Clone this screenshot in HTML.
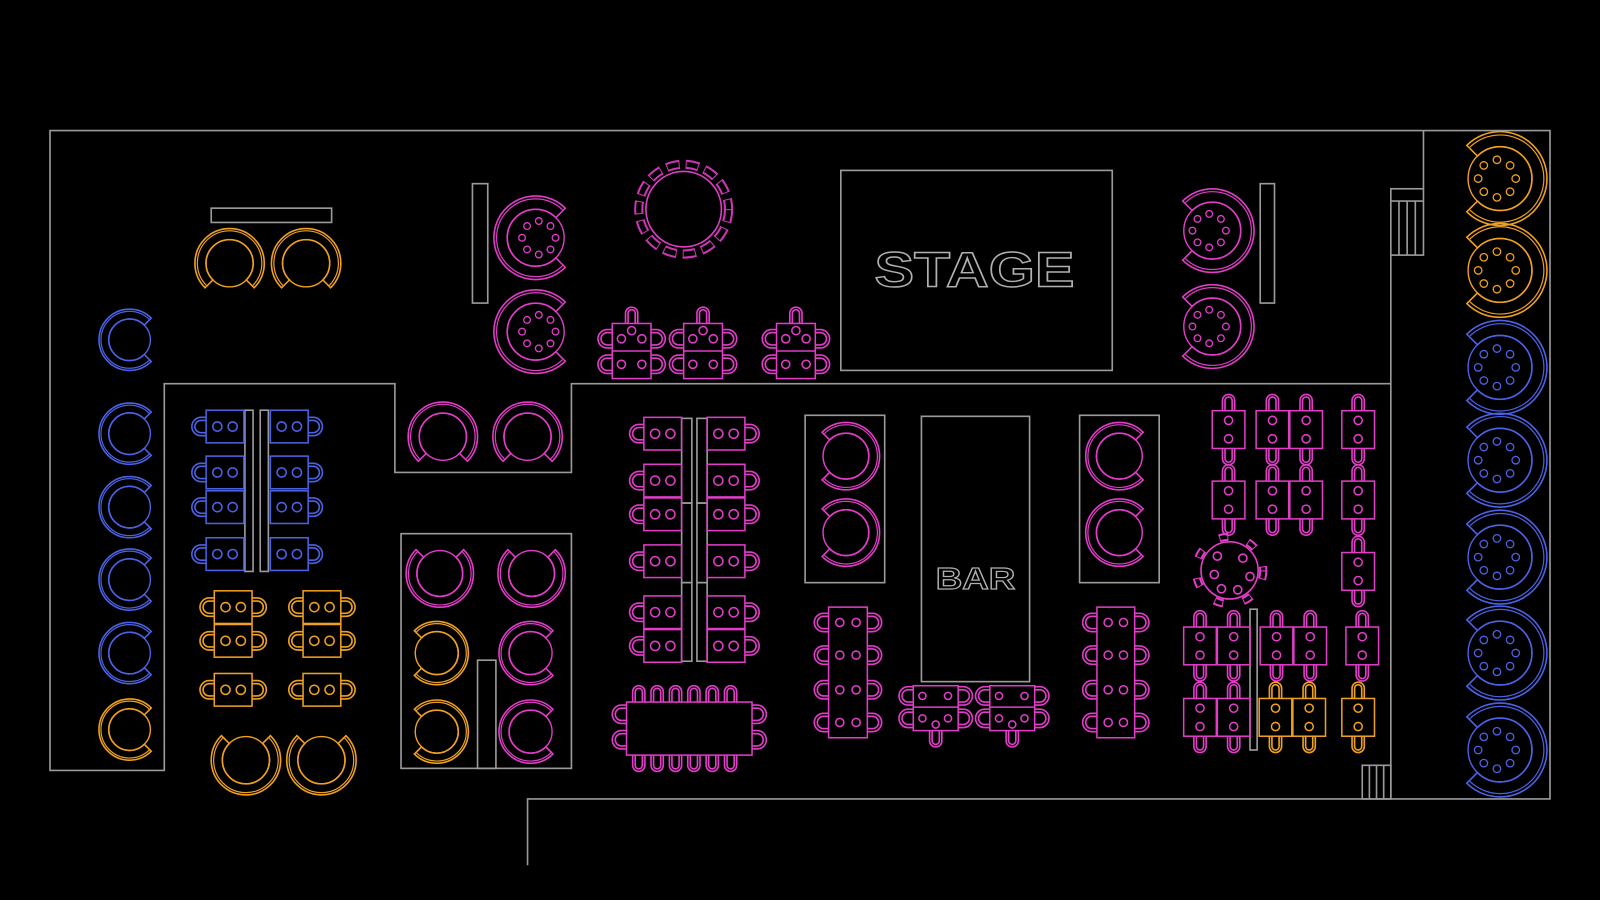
<!DOCTYPE html>
<html><head><meta charset="utf-8"><style>
html,body{margin:0;padding:0;background:#000;}
svg{display:block;}
</style></head><body>
<svg width="1600" height="900" viewBox="0 0 1568 882" preserveAspectRatio="none" xmlns="http://www.w3.org/2000/svg">
<defs>
<g id="bt" fill="none" stroke="currentColor">
<path vector-effect="non-scaling-stroke" stroke-width="1.6" d="M0.707,-0.707 A1,1 0 1 0 0.707,0.707 L0.48,0.48 A0.68,0.68 0 1 1 0.48,-0.48 Z"/>
<path vector-effect="non-scaling-stroke" stroke-width="1.2" d="M0.64,-0.67 A0.93,0.93 0 1 0 0.64,0.67"/>
<circle vector-effect="non-scaling-stroke" stroke-width="1.4" r="0.68"/>
</g>
<g id="dots" fill="none" stroke="currentColor">
<circle vector-effect="non-scaling-stroke" stroke-width="1.3" cx="0" cy="-0.4" r="0.08"/>
<circle vector-effect="non-scaling-stroke" stroke-width="1.3" cx="0.28" cy="-0.28" r="0.08"/>
<circle vector-effect="non-scaling-stroke" stroke-width="1.3" cx="0.4" cy="0" r="0.08"/>
<circle vector-effect="non-scaling-stroke" stroke-width="1.3" cx="0.28" cy="0.28" r="0.08"/>
<circle vector-effect="non-scaling-stroke" stroke-width="1.3" cx="0" cy="0.4" r="0.08"/>
<circle vector-effect="non-scaling-stroke" stroke-width="1.3" cx="-0.28" cy="0.28" r="0.08"/>
<circle vector-effect="non-scaling-stroke" stroke-width="1.3" cx="-0.4" cy="0" r="0.08"/>
<circle vector-effect="non-scaling-stroke" stroke-width="1.3" cx="-0.28" cy="-0.28" r="0.08"/>
</g>
<path id="ch" fill="none" stroke="currentColor" stroke-width="1.6" d="M0,-9 H-5 A9,9 0 0 0 -5,9 H0 M0,-6 H-5 A6,6 0 0 0 -5,6 H0"/>
<path id="chv" fill="none" stroke="currentColor" stroke-width="1.6" d="M-6,0 V-10 A6,6 0 0 1 6,-10 V0 M-3.5,0 V-10 A3.5,3.5 0 0 1 3.5,-10 V0"/>
<g id="hu" fill="none" stroke="currentColor" stroke-width="1.5">
<rect x="0" y="-16" width="37" height="32"/>
<circle cx="11" cy="0" r="4.5"/><circle cx="26" cy="0" r="4.5"/>
<use href="#ch"/>
</g>
<g id="vu" fill="none" stroke="currentColor" stroke-width="1.5">
<rect x="-16" y="-18.5" width="32" height="37"/>
<circle cx="0" cy="-9" r="4"/><circle cx="0" cy="9" r="4"/>
<use href="#chv" transform="translate(0,-18.5)"/>
<use href="#chv" transform="translate(0,18.5) scale(1,-1)"/>
</g>
<g id="tu" fill="none" stroke="currentColor" stroke-width="1.5">
<rect x="-19" y="-27" width="38" height="54"/>
<line x1="-19" y1="0" x2="19" y2="0"/>
<circle cx="-10" cy="-12" r="4"/><circle cx="10" cy="-12" r="4"/><circle cx="0" cy="-20" r="4"/>
<circle cx="-10" cy="13" r="4"/><circle cx="10" cy="13" r="4"/>
<use href="#ch" transform="translate(-19,-12)"/><use href="#ch" transform="translate(-19,13)"/>
<use href="#ch" transform="translate(19,-12) scale(-1,1)"/><use href="#ch" transform="translate(19,13) scale(-1,1)"/>
<use href="#chv" transform="translate(0,-27)"/>
</g>
</defs>

<g fill="none" stroke="#9a9a9a" stroke-width="1.6">
<polyline points="1395,128 49,128 49,755 161,755 161,376 387,376 387,463 560,463 560,376 1363,376"/>
<line x1="1395" y1="128" x2="1395" y2="185"/>
<polyline points="1395,128 1519,128 1519,783 517,783 517,848"/>
<polyline points="1363,250 1363,783"/>
<rect x="1363" y="185" width="32" height="65"/>
<line x1="1363" y1="197" x2="1395" y2="197"/>
<line x1="1371" y1="197" x2="1371" y2="250"/><line x1="1379" y1="197" x2="1379" y2="250"/><line x1="1387" y1="197" x2="1387" y2="250"/>
<rect x="824" y="167" width="266" height="196"/>
<rect x="903" y="408" width="106" height="260"/>
<rect x="463" y="180" width="15" height="117"/>
<rect x="1235" y="180" width="14" height="117"/>
<rect x="207" y="204" width="118" height="14"/>
<rect x="789" y="407" width="78" height="164"/>
<rect x="1058" y="407" width="78" height="164"/>
<rect x="393" y="523" width="167" height="230"/>
<rect x="468" y="647" width="18" height="106"/>
<rect x="240" y="402" width="8" height="158"/><rect x="255" y="402" width="8" height="158"/>
<rect x="668" y="410" width="10" height="83"/><rect x="683" y="410" width="10" height="83"/>
<rect x="668" y="493" width="10" height="78"/><rect x="683" y="493" width="10" height="78"/>
<rect x="668" y="571" width="10" height="77"/><rect x="683" y="571" width="10" height="77"/>
<rect x="1225" y="597" width="7" height="138"/>
<rect x="1335" y="750" width="28" height="33"/>
<line x1="1342" y1="750" x2="1342" y2="783"/><line x1="1349" y1="750" x2="1349" y2="783"/><line x1="1356" y1="750" x2="1356" y2="783"/>
</g>
<text x="857" y="281" textLength="196" lengthAdjust="spacingAndGlyphs" font-family="Liberation Sans, sans-serif" font-weight="bold" font-size="48" fill="none" stroke="#b0b0b0" stroke-width="1.4">STAGE</text>
<text x="917" y="577" textLength="78" lengthAdjust="spacingAndGlyphs" font-family="Liberation Sans, sans-serif" font-weight="bold" font-size="30" fill="none" stroke="#b0b0b0" stroke-width="1.2">BAR</text>

<g style="color:#4c62e6">
<use href="#bt" transform="translate(127,333) scale(30)"/>
<use href="#bt" transform="translate(127,425) scale(30)"/>
<use href="#bt" transform="translate(127,497) scale(30)"/>
<use href="#bt" transform="translate(127,568) scale(30)"/>
<use href="#bt" transform="translate(127,640) scale(30)"/>
</g>
<g style="color:#f0a020">
<use href="#bt" transform="translate(127,715) scale(30)"/>
<use href="#bt" transform="translate(225,258) rotate(90) scale(34)"/>
<use href="#bt" transform="translate(300,258) rotate(90) scale(34)"/>
<use href="#bt" transform="translate(241,745) rotate(-90) scale(34)"/>
<use href="#bt" transform="translate(315,745) rotate(-90) scale(34)"/>
<use href="#bt" transform="translate(428,640) rotate(180) scale(31)"/>
<use href="#bt" transform="translate(428,717) rotate(180) scale(31)"/>
</g>
<g style="color:#e23cc8">
<use href="#bt" transform="translate(434,428) rotate(90) scale(34)"/>
<use href="#bt" transform="translate(517,428) rotate(90) scale(34)"/>
<use href="#bt" transform="translate(431,562) rotate(-90) scale(33)"/>
<use href="#bt" transform="translate(521,562) rotate(-90) scale(33)"/>
<use href="#bt" transform="translate(520,640) scale(31)"/>
<use href="#bt" transform="translate(520,717) scale(31)"/>
<use href="#bt" transform="translate(829,447) rotate(180) scale(33)"/>
<use href="#bt" transform="translate(829,522) rotate(180) scale(33)"/>
<use href="#bt" transform="translate(1097,447) scale(33)"/>
<use href="#bt" transform="translate(1097,522) scale(33)"/>
<use href="#bt" transform="translate(525,233) scale(41)"/><use href="#dots" transform="translate(528,233) scale(41)"/>
<use href="#bt" transform="translate(525,325) scale(41)"/><use href="#dots" transform="translate(528,325) scale(41)"/>
<use href="#bt" transform="translate(1188,226) rotate(180) scale(41)"/><use href="#dots" transform="translate(1185,226) scale(41)"/>
<use href="#bt" transform="translate(1188,320) rotate(180) scale(41)"/><use href="#dots" transform="translate(1185,320) scale(41)"/>
</g>
<g style="color:#f0a020">
<use href="#bt" transform="translate(1470,175) rotate(180) scale(46)"/><use href="#dots" transform="translate(1467,175) scale(46)"/>
<use href="#bt" transform="translate(1470,265) rotate(180) scale(46)"/><use href="#dots" transform="translate(1467,265) scale(46)"/>
</g>
<g style="color:#4c62e6">
<use href="#bt" transform="translate(1470,360) rotate(180) scale(46)"/><use href="#dots" transform="translate(1467,360) scale(46)"/>
<use href="#bt" transform="translate(1470,451) rotate(180) scale(46)"/><use href="#dots" transform="translate(1467,451) scale(46)"/>
<use href="#bt" transform="translate(1470,546) rotate(180) scale(46)"/><use href="#dots" transform="translate(1467,546) scale(46)"/>
<use href="#bt" transform="translate(1470,640) rotate(180) scale(46)"/><use href="#dots" transform="translate(1467,640) scale(46)"/>
<use href="#bt" transform="translate(1470,735) rotate(180) scale(46)"/><use href="#dots" transform="translate(1467,735) scale(46)"/>
</g>

<g fill="none" stroke="#e23cc8" stroke-width="1.6">
<circle cx="670" cy="205" r="37"/>
<circle cx="670" cy="205" r="44" stroke-width="9" stroke-dasharray="13 6" opacity="0.9"/>
<circle cx="670" cy="205" r="44" stroke="#000" stroke-width="5" stroke-dasharray="11 8" stroke-dashoffset="-1"/>
<circle cx="1205" cy="559" r="28"/>
<circle cx="1205" cy="559" r="33" stroke-width="8" stroke-dasharray="9 20"/>
<circle cx="1205" cy="559" r="33" stroke="#000" stroke-width="4" stroke-dasharray="7 22" stroke-dashoffset="-1"/>
<circle cx="1193" cy="545" r="4"/><circle cx="1218" cy="547" r="4"/><circle cx="1225" cy="565" r="4"/><circle cx="1190" cy="563" r="4"/><circle cx="1197" cy="577" r="4"/><circle cx="1213" cy="578" r="4"/>
</g>

<g style="color:#4c62e6">
<use href="#hu" transform="translate(202,418)"/><use href="#hu" transform="translate(302,418) scale(-1,1)"/>
<use href="#hu" transform="translate(202,463)"/><use href="#hu" transform="translate(302,463) scale(-1,1)"/>
<use href="#hu" transform="translate(202,497)"/><use href="#hu" transform="translate(302,497) scale(-1,1)"/>
<use href="#hu" transform="translate(202,543)"/><use href="#hu" transform="translate(302,543) scale(-1,1)"/>
</g>
<g style="color:#f0a020">
<use href="#hu" transform="translate(210,595)"/><use href="#ch" transform="translate(247,595) scale(-1,1)"/>
<use href="#hu" transform="translate(210,628)"/><use href="#ch" transform="translate(247,628) scale(-1,1)"/>
<use href="#hu" transform="translate(210,676)"/><use href="#ch" transform="translate(247,676) scale(-1,1)"/>
<use href="#hu" transform="translate(297,595)"/><use href="#ch" transform="translate(334,595) scale(-1,1)"/>
<use href="#hu" transform="translate(297,628)"/><use href="#ch" transform="translate(334,628) scale(-1,1)"/>
<use href="#hu" transform="translate(297,676)"/><use href="#ch" transform="translate(334,676) scale(-1,1)"/>
</g>
<g style="color:#e23cc8">
<use href="#hu" transform="translate(631,425)"/><use href="#hu" transform="translate(730,425) scale(-1,1)"/>
<use href="#hu" transform="translate(631,471)"/><use href="#hu" transform="translate(730,471) scale(-1,1)"/>
<use href="#hu" transform="translate(631,504)"/><use href="#hu" transform="translate(730,504) scale(-1,1)"/>
<use href="#hu" transform="translate(631,550)"/><use href="#hu" transform="translate(730,550) scale(-1,1)"/>
<use href="#hu" transform="translate(631,600)"/><use href="#hu" transform="translate(730,600) scale(-1,1)"/>
<use href="#hu" transform="translate(631,633)"/><use href="#hu" transform="translate(730,633) scale(-1,1)"/>
<use href="#tu" transform="translate(619,344)"/>
<use href="#tu" transform="translate(689,344)"/>
<use href="#tu" transform="translate(780,344)"/>
</g>
<g fill="none" stroke="#e23cc8" stroke-width="1.5">
<rect x="614" y="688" width="123" height="52"/>
<rect x="812" y="595" width="38" height="128"/>
<rect x="1075" y="595" width="37" height="128"/>
<rect x="895" y="672" width="44" height="44"/><line x1="895" y1="693" x2="939" y2="693"/>
<rect x="970" y="672" width="44" height="44"/><line x1="970" y1="693" x2="1014" y2="693"/>
<circle cx="904" cy="682" r="3.5"/><circle cx="929" cy="682" r="3.5"/><circle cx="904" cy="704" r="3.5"/><circle cx="929" cy="704" r="3.5"/><circle cx="917" cy="710" r="3.5"/>
<circle cx="979" cy="682" r="3.5"/><circle cx="1004" cy="682" r="3.5"/><circle cx="979" cy="704" r="3.5"/><circle cx="1004" cy="704" r="3.5"/><circle cx="992" cy="710" r="3.5"/>
<circle cx="823" cy="610" r="4"/><circle cx="839" cy="610" r="4"/><circle cx="823" cy="642" r="4"/><circle cx="839" cy="642" r="4"/>
<circle cx="823" cy="676" r="4"/><circle cx="839" cy="676" r="4"/><circle cx="823" cy="708" r="4"/><circle cx="839" cy="708" r="4"/>
<circle cx="1086" cy="610" r="4"/><circle cx="1101" cy="610" r="4"/><circle cx="1086" cy="642" r="4"/><circle cx="1101" cy="642" r="4"/>
<circle cx="1086" cy="676" r="4"/><circle cx="1101" cy="676" r="4"/><circle cx="1086" cy="708" r="4"/><circle cx="1101" cy="708" r="4"/>
</g>
<g style="color:#e23cc8">
<use href="#ch" transform="translate(614,700)"/><use href="#ch" transform="translate(614,725)"/>
<use href="#ch" transform="translate(737,700) scale(-1,1)"/><use href="#ch" transform="translate(737,725) scale(-1,1)"/>
<use href="#chv" transform="translate(626,688)"/><use href="#chv" transform="translate(644,688)"/><use href="#chv" transform="translate(662,688)"/><use href="#chv" transform="translate(680,688)"/><use href="#chv" transform="translate(698,688)"/><use href="#chv" transform="translate(716,688)"/>
<use href="#chv" transform="translate(626,740) scale(1,-1)"/><use href="#chv" transform="translate(644,740) scale(1,-1)"/><use href="#chv" transform="translate(662,740) scale(1,-1)"/><use href="#chv" transform="translate(680,740) scale(1,-1)"/><use href="#chv" transform="translate(698,740) scale(1,-1)"/><use href="#chv" transform="translate(716,740) scale(1,-1)"/>
<use href="#ch" transform="translate(812,610)"/><use href="#ch" transform="translate(812,642)"/><use href="#ch" transform="translate(812,676)"/><use href="#ch" transform="translate(812,708)"/>
<use href="#ch" transform="translate(850,610) scale(-1,1)"/><use href="#ch" transform="translate(850,642) scale(-1,1)"/><use href="#ch" transform="translate(850,676) scale(-1,1)"/><use href="#ch" transform="translate(850,708) scale(-1,1)"/>
<use href="#ch" transform="translate(1075,610)"/><use href="#ch" transform="translate(1075,642)"/><use href="#ch" transform="translate(1075,676)"/><use href="#ch" transform="translate(1075,708)"/>
<use href="#ch" transform="translate(1112,610) scale(-1,1)"/><use href="#ch" transform="translate(1112,642) scale(-1,1)"/><use href="#ch" transform="translate(1112,676) scale(-1,1)"/><use href="#ch" transform="translate(1112,708) scale(-1,1)"/>
<use href="#ch" transform="translate(895,682)"/><use href="#ch" transform="translate(895,704)"/><use href="#ch" transform="translate(939,682) scale(-1,1)"/><use href="#ch" transform="translate(939,704) scale(-1,1)"/>
<use href="#ch" transform="translate(970,682)"/><use href="#ch" transform="translate(970,704)"/><use href="#ch" transform="translate(1014,682) scale(-1,1)"/><use href="#ch" transform="translate(1014,704) scale(-1,1)"/>
<use href="#chv" transform="translate(917,716) scale(1,-1)"/><use href="#chv" transform="translate(992,716) scale(1,-1)"/>
<use href="#vu" transform="translate(1204,421)"/>
<use href="#vu" transform="translate(1247,421)"/><use href="#vu" transform="translate(1280,421)"/>
<use href="#vu" transform="translate(1331,421)"/>
<use href="#vu" transform="translate(1204,490)"/>
<use href="#vu" transform="translate(1247,490)"/><use href="#vu" transform="translate(1280,490)"/>
<use href="#vu" transform="translate(1331,490)"/>
<use href="#vu" transform="translate(1331,560)"/>
<use href="#vu" transform="translate(1176,633)"/><use href="#vu" transform="translate(1209,633)"/>
<use href="#vu" transform="translate(1251,633)"/><use href="#vu" transform="translate(1284,633)"/>
<use href="#vu" transform="translate(1335,633)"/>
<use href="#vu" transform="translate(1176,703)"/><use href="#vu" transform="translate(1209,703)"/>
</g>
<g style="color:#f0a020">
<use href="#vu" transform="translate(1250,703)"/><use href="#vu" transform="translate(1283,703)"/>
<use href="#vu" transform="translate(1331,703)"/>
</g>
</svg>
</body></html>
